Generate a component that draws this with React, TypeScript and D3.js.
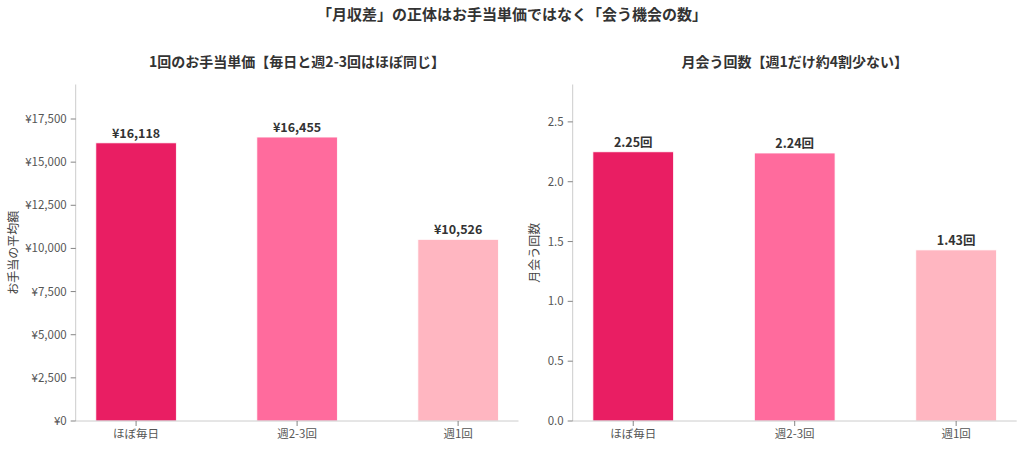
import React from 'react';
import * as d3 from 'd3';

const categories = ['ほぼ毎日', '週2-3回', '週1回'];
const colors = ['#E91E63', '#FF6B9D', '#FFB6C1'];
const allowance = [16118, 16455, 10526];
const meetings = [2.25, 2.24, 1.43];
const allowanceTicks = [0, 2500, 5000, 7500, 10000, 12500, 15000, 17500];
const meetingTicks = [0, 0.5, 1.0, 1.5, 2.0, 2.5];

const FONT = '"Noto Sans CJK JP", "Noto Sans", sans-serif';

interface PanelProps {
  left: number;
  right: number;
  values: number[];
  ticks: number[];
  yMax: number;
  tickFmt: (v: number) => string;
  labelFmt: (v: number) => string;
  title: string;
  yLabel: string;
  yLabelX: number;
}

const top = 84.5;
const bottom = 421;

function Panel(p: PanelProps) {
  // matplotlib style: bar width 0.5, margin 0.125 units each side
  const x = d3.scaleLinear().domain([-0.375, 2.375]).range([p.left, p.right]);
  const bw = x(0.5) - x(0);
  const y = d3.scaleLinear().domain([0, p.yMax]).range([bottom, top]);
  const mid = (p.left + p.right) / 2;
  return (
    <g>
      <text x={mid} y={67} textAnchor="middle" fontSize={14} fontWeight="bold" fill="#333">
        {p.title}
      </text>
      {p.values.map((v, i) => (
        <g key={i}>
          <rect
            x={x(i) - bw / 2}
            y={y(v)}
            width={bw}
            height={bottom - y(v)}
            fill={colors[i]}
            stroke="#fff"
            strokeWidth={0.8}
          />
          <text x={x(i)} y={y(v) - 5} textAnchor="middle" fontSize={12.5} fontWeight="bold" fill="#333">
            {p.labelFmt(v)}
          </text>
        </g>
      ))}
      <line x1={p.left} x2={p.left} y1={top} y2={bottom} stroke="#ccc" strokeWidth={1} />
      <line x1={p.left} x2={p.right} y1={bottom} y2={bottom} stroke="#ccc" strokeWidth={1} />
      {p.ticks.map((t) => (
        <g key={t}>
          <line x1={p.left - 5} x2={p.left} y1={y(t)} y2={y(t)} stroke="#666" strokeWidth={0.8} />
          <text x={p.left - 9} y={y(t)} dy="0.35em" textAnchor="end" fontSize={11.5} fill="#555">
            {p.tickFmt(t)}
          </text>
        </g>
      ))}
      {categories.map((c, i) => (
        <g key={c}>
          <line x1={x(i)} x2={x(i)} y1={bottom} y2={bottom + 5} stroke="#666" strokeWidth={0.8} />
          <text x={x(i)} y={438} textAnchor="middle" fontSize={11.5} fill="#555">
            {c}
          </text>
        </g>
      ))}
      <text
        transform={`translate(${p.yLabelX},${(top + bottom) / 2}) rotate(-90)`}
        textAnchor="middle"
        dy="0.35em"
        fontSize={12}
        fill="#444"
      >
        {p.yLabel}
      </text>
    </g>
  );
}

export default function App() {
  const yen = (v: number) => '¥' + d3.format(',')(v);
  return (
    <svg width={1024} height={449} style={{ position: 'absolute', left: 0, top: 0, fontFamily: FONT }}>
      <rect width={1024} height={449} fill="#fff" />
      <text x={512} y={20} textAnchor="middle" fontSize={15} fontWeight="bold" fill="#333">
        「月収差」の正体はお手当単価ではなく「会う機会の数」
      </text>
      <Panel
        left={75.7}
        right={518.5}
        values={allowance}
        ticks={allowanceTicks}
        yMax={d3.max(allowance)! * 1.185}
        tickFmt={yen}
        labelFmt={yen}
        title="1回のお手当単価【毎日と週2-3回はほぼ同じ】"
        yLabel="お手当の平均額"
        yLabelX={13.5}
      />
      <Panel
        left={572.7}
        right={1016.7}
        values={meetings}
        ticks={meetingTicks}
        yMax={d3.max(meetings)! * 1.25}
        tickFmt={d3.format('.1f')}
        labelFmt={(v) => d3.format('.2f')(v) + '回'}
        title="月会う回数【週1だけ約4割少ない】"
        yLabel="月会う回数"
        yLabelX={535}
      />
    </svg>
  );
}
